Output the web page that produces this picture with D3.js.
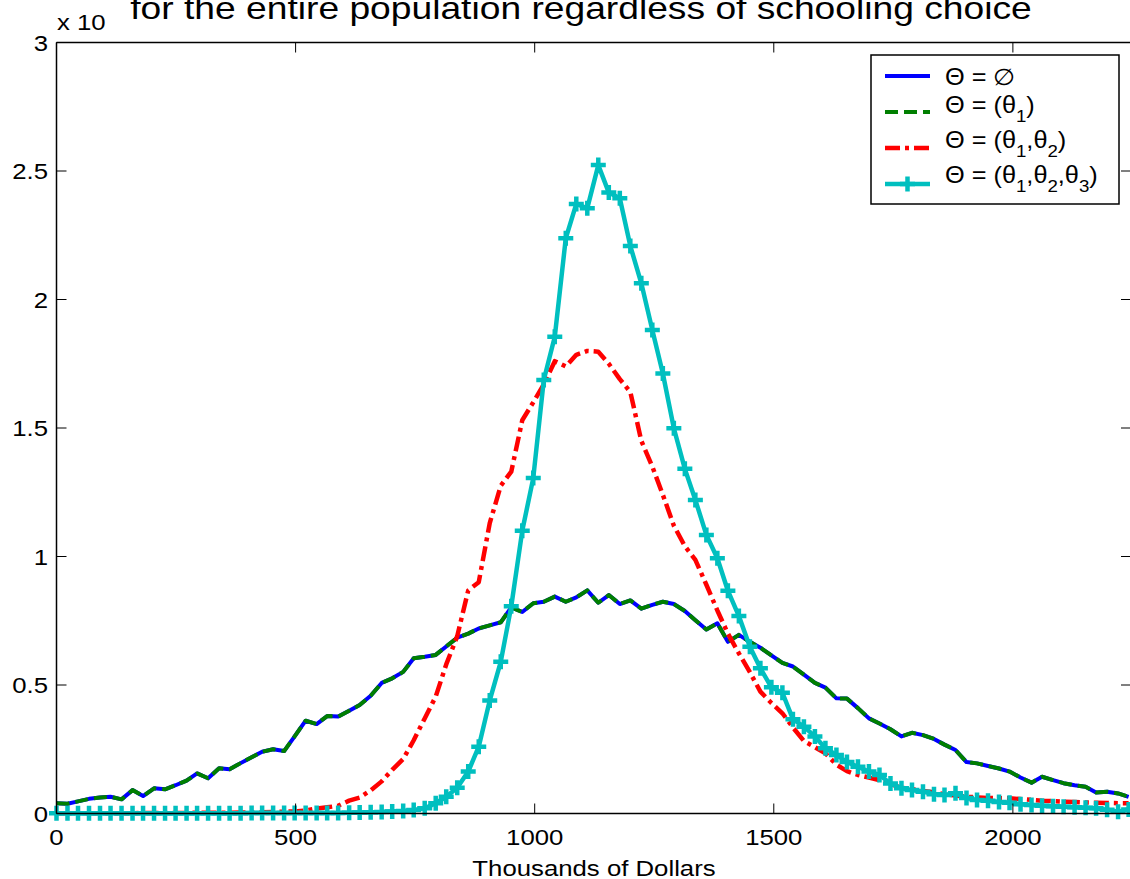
<!DOCTYPE html>
<html>
<head>
<meta charset="utf-8">
<script src="https://cdn.jsdelivr.net/npm/d3@7"></script>
<style>
  html, body { margin: 0; padding: 0; background: #fff; }
  svg { display: block; }
  text { font-family: "Liberation Sans", Arial, Helvetica, sans-serif; fill: #000; }
</style>
</head>
<body>
<svg id="chart" width="1130" height="879"></svg>
<script>
// ---------- data ----------
const income = [0,23,45,68,91,113,136,159,181,204,227,249,272,294,317,340,362,385,408,430,
  453,476,498,521,544,566,589,612,634,657,680,702,725,747,770,793,815,838,861,883,
  906,929,951,974,997,1019,1042,1065,1087,1110,1133,1155,1178,1200,1223,1246,1268,1291,1314,1336,
  1359,1382,1404,1427,1450,1472,1495,1518,1540,1563,1586,1608,1631,1653,1676,1699,1721,1744,1767,1789,
  1812,1835,1857,1880,1903,1925,1948,1971,1993,2016,2039,2061,2084,2106,2129,2152,2174,2197,2220,2242];

const densityNone = [0.040,0.038,0.047,0.057,0.062,0.065,0.055,0.091,0.068,0.098,
  0.094,0.110,0.128,0.156,0.137,0.176,0.172,0.196,0.219,0.240,
  0.250,0.243,0.300,0.361,0.348,0.379,0.377,0.400,0.422,0.458,
  0.508,0.526,0.551,0.604,0.610,0.617,0.650,0.684,0.700,0.720,
  0.732,0.744,0.802,0.784,0.818,0.824,0.844,0.824,0.841,0.868,
  0.820,0.850,0.815,0.829,0.797,0.812,0.824,0.815,0.788,0.752,
  0.716,0.740,0.668,0.695,0.668,0.645,0.615,0.586,0.572,0.540,
  0.508,0.490,0.448,0.447,0.410,0.370,0.350,0.328,0.300,0.314,
  0.305,0.290,0.268,0.247,0.200,0.195,0.185,0.175,0.163,0.140,
  0.120,0.143,0.130,0.118,0.110,0.104,0.082,0.085,0.078,0.065];

const densityTheta1 = [0.040,0.038,0.047,0.057,0.062,0.065,0.055,0.091,0.068,0.098,
  0.094,0.110,0.128,0.156,0.137,0.176,0.172,0.196,0.219,0.240,
  0.250,0.243,0.300,0.361,0.348,0.379,0.377,0.400,0.422,0.458,
  0.508,0.526,0.551,0.604,0.610,0.617,0.650,0.684,0.700,0.720,
  0.732,0.744,0.802,0.784,0.818,0.824,0.844,0.824,0.841,0.868,
  0.820,0.850,0.815,0.829,0.797,0.812,0.824,0.815,0.788,0.752,
  0.716,0.740,0.668,0.695,0.668,0.645,0.615,0.586,0.572,0.540,
  0.508,0.490,0.448,0.447,0.410,0.370,0.350,0.328,0.300,0.314,
  0.305,0.290,0.268,0.247,0.200,0.195,0.185,0.175,0.163,0.140,
  0.120,0.143,0.130,0.118,0.110,0.104,0.082,0.085,0.078,0.065];

const densityTheta12 = [0.001,0.001,0.001,0.001,0.001,0.001,0.001,0.001,0.002,0.002,
  0.002,0.002,0.002,0.003,0.003,0.003,0.003,0.004,0.004,0.005,
  0.006,0.007,0.008,0.012,0.019,0.024,0.030,0.050,0.062,0.090,
  0.125,0.170,0.212,0.285,0.370,0.455,0.580,0.690,0.868,0.900,
  1.130,1.275,1.330,1.530,1.600,1.670,1.760,1.740,1.785,1.800,
  1.797,1.750,1.690,1.640,1.450,1.350,1.240,1.120,1.040,0.987,
  0.890,0.790,0.700,0.623,0.550,0.474,0.430,0.390,0.335,0.282,
  0.258,0.234,0.190,0.165,0.150,0.140,0.130,0.115,0.100,0.095,
  0.088,0.083,0.075,0.070,0.065,0.063,0.060,0.060,0.059,0.056,
  0.053,0.050,0.048,0.046,0.045,0.043,0.042,0.041,0.040,0.040];

const densityTheta123 = [0.001,0.001,0.001,0.001,0.001,0.001,0.001,0.001,0.001,0.001,
  0.001,0.001,0.001,0.001,0.001,0.001,0.001,0.001,0.002,0.002,
  0.002,0.002,0.002,0.002,0.002,0.002,0.002,0.003,0.004,0.005,
  0.006,0.008,0.010,0.014,0.020,0.040,0.065,0.100,0.163,0.260,
  0.440,0.590,0.806,1.100,1.305,1.687,1.855,2.238,2.372,2.355,
  2.523,2.416,2.394,2.208,2.063,1.881,1.712,1.499,1.341,1.220,
  1.084,0.993,0.867,0.768,0.649,0.565,0.491,0.470,0.367,0.338,
  0.300,0.254,0.228,0.200,0.182,0.163,0.150,0.117,0.098,0.091,
  0.085,0.075,0.072,0.079,0.060,0.053,0.050,0.045,0.042,0.036,
  0.033,0.030,0.028,0.026,0.024,0.022,0.020,0.015,0.007,0.016];

const xTicks = [0, 500, 1000, 1500, 2000];
const yTicks = [0, 0.5, 1, 1.5, 2, 2.5, 3];
const yTickLabels = ["0", "0.5", "1", "1.5", "2", "2.5", "3"];
const titleText = "for the entire population regardless of schooling choice";
const xLabelText = "Thousands of Dollars";
const exponentText = "x 10";

// ---------- layout ----------
const svg = d3.select("#chart");
const plotL = 56.5, plotR = 1131, plotT = 42.5, plotB = 813.5;
const x = d3.scaleLinear().domain([0, 2247]).range([plotL, plotR]);
const y = d3.scaleLinear().domain([0, 3]).range([plotB, plotT]);
const SX = 1.12; // horizontal text stretch

function stext(parent, px, py, sx, txt, size, anchor) {
  const g = parent.append("g").attr("transform", `translate(${px},${py}) scale(${sx},1)`);
  return g.append("text").attr("font-size", size).attr("text-anchor", anchor || "start").text(txt);
}

// ---------- series ----------
const seriesDefs = [
  { values: densityNone, color: "#0000ff", width: 4, dash: null },
  { values: densityTheta1, color: "#007f00", width: 4, dash: "13,6" },
  { values: densityTheta12, color: "#ff0000", width: 4.5, dash: "15,5,4,5" },
  { values: densityTheta123, color: "#00bfbf", width: 4.5, dash: null, marker: true }
];

const line = d3.line().x(d => x(d[0])).y(d => y(d[1]));

seriesDefs.forEach(s => {
  const pts = income.map((v, i) => [v, s.values[i]]);
  svg.append("path")
    .attr("d", line(pts))
    .attr("fill", "none")
    .attr("stroke", s.color)
    .attr("stroke-width", s.width)
    .attr("stroke-linejoin", "round")
    .attr("stroke-dasharray", s.dash);
  if (s.marker) {
    svg.append("g").selectAll("path").data(pts).join("path")
      .attr("d", d => `M${x(d[0]) - 7.5},${y(d[1])}H${x(d[0]) + 7.5}M${x(d[0])},${y(d[1]) - 7.5}V${y(d[1]) + 7.5}`)
      .attr("stroke", s.color)
      .attr("stroke-width", 4.5)
      .attr("fill", "none");
  }
});

// ---------- axes ----------
const axes = svg.append("g").attr("stroke", "#000").attr("stroke-width", 1.5).attr("fill", "none");
axes.append("line").attr("x1", plotL).attr("x2", plotR).attr("y1", plotB).attr("y2", plotB);
axes.append("line").attr("x1", plotL).attr("x2", plotR).attr("y1", plotT).attr("y2", plotT);
axes.append("line").attr("x1", plotL).attr("x2", plotL).attr("y1", plotT).attr("y2", plotB);
axes.append("line").attr("x1", plotR).attr("x2", plotR).attr("y1", plotT).attr("y2", plotB);
const TL = 10;
xTicks.forEach(t => {
  axes.append("line").attr("x1", x(t)).attr("x2", x(t)).attr("y1", plotB).attr("y2", plotB - TL).attr("stroke-width", 1);
  axes.append("line").attr("x1", x(t)).attr("x2", x(t)).attr("y1", plotT).attr("y2", plotT + TL).attr("stroke-width", 1);
});
yTicks.forEach(t => {
  axes.append("line").attr("x1", plotL).attr("x2", plotL + TL).attr("y1", y(t)).attr("y2", y(t)).attr("stroke-width", 1);
  axes.append("line").attr("x1", plotR).attr("x2", plotR - TL).attr("y1", y(t)).attr("y2", y(t)).attr("stroke-width", 1);
});

// tick labels
xTicks.forEach(t => stext(svg, x(t), 845, SX, String(t), 23, "middle"));
yTicks.forEach((t, i) => stext(svg, 48, y(t) + 8, SX, yTickLabels[i], 23, "end"));

stext(svg, 594, 876, SX, xLabelText, 23, "middle");
stext(svg, 57, 30, SX, exponentText, 23, "start");
stext(svg, 581, 19, 1.2, titleText, 31, "middle");

// ---------- legend ----------
const lg = svg.append("g");
lg.append("rect").attr("x", 871).attr("y", 55).attr("width", 248).attr("height", 149)
  .attr("fill", "#fff").attr("stroke", "#000").attr("stroke-width", 1.5);

const legendRows = [
  { ly: 76, base: 85, parts: [["Θ = ∅", 0]] },
  { ly: 112, base: 112.5, parts: [["Θ = (θ", 0], ["1", 1], [")", 0]] },
  { ly: 148, base: 148, parts: [["Θ = (θ", 0], ["1", 1], [",θ", 0], ["2", 1], [")", 0]] },
  { ly: 184, base: 183, parts: [["Θ = (θ", 0], ["1", 1], [",θ", 0], ["2", 1], [",θ", 0], ["3", 1], [")", 0]] }
];

legendRows.forEach((r, i) => {
  const s = seriesDefs[i];
  lg.append("line").attr("x1", 885).attr("x2", 930).attr("y1", r.ly).attr("y2", r.ly)
    .attr("stroke", s.color).attr("stroke-width", s.width).attr("stroke-dasharray", s.dash);
  if (s.marker) {
    lg.append("path").attr("d", `M900,${r.ly}H915M907.5,${r.ly - 7.5}V${r.ly + 7.5}`)
      .attr("stroke", s.color).attr("stroke-width", 4.5);
  }
  const g = lg.append("g").attr("transform", `translate(945,${r.base}) scale(1.1,1)`);
  const t = g.append("text").attr("font-size", 23);
  let sub = false;
  r.parts.forEach(([txt, isSub]) => {
    const ts = t.append("tspan").text(txt);
    if (isSub && !sub) { ts.attr("dy", 9).attr("font-size", 17); sub = true; }
    else if (isSub) { ts.attr("font-size", 17); }
    else if (!isSub && sub) { ts.attr("dy", -9); sub = false; }
  });
});
</script>
</body>
</html>
